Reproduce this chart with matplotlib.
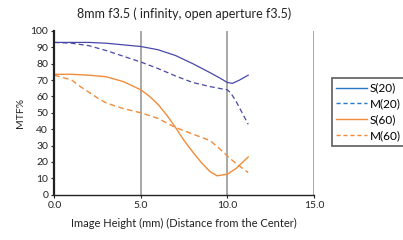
import matplotlib
matplotlib.use("Agg")
import matplotlib.pyplot as plt
from matplotlib.lines import Line2D

# Data
x_s20 = [0, 1, 2, 3, 4, 5, 6, 7, 8, 9, 9.6, 10, 10.3, 10.7, 11.2]
s20 = [93, 93, 93, 92.5, 91.5, 90.5, 88.5, 85, 80, 74.5, 71, 68.5, 68, 70, 73]
x_m20 = [0, 1, 2, 3, 4, 5, 6, 7, 8, 9, 9.5, 10, 10.2, 10.5, 10.9, 11.2]
m20 = [93, 92.5, 91, 88, 84.5, 81, 77, 72.5, 68.5, 66, 65, 64, 62, 57, 49, 43]
x_s60 = [0, 1, 2, 3, 4, 5, 5.5, 6, 6.5, 7, 7.5, 8, 8.5, 9, 9.4, 10, 10.5, 11.2]
s60 = [73.5, 73.5, 73, 72, 69, 64, 60, 55, 48.5, 41, 33, 26, 19.5, 14, 11.5, 12.5, 16, 23]
x_m60 = [0, 1, 1.5, 2, 2.5, 3, 4, 5, 6, 7, 8, 9, 9.5, 10, 10.5, 11.2]
m60 = [73, 70, 66, 62.5, 59, 56, 52.5, 50, 46.5, 41, 37, 33, 28.5, 23.5, 19, 13.5]

xticks = [0, 5, 10, 15]
xtick_labels = ["0.0", "5.0", "10.0", "15.0"]
yticks = list(range(0, 101, 10))
legend_labels = ["S(20)", "M(20)", "S(60)", "M(60)"]

plt.rcParams['font.family'] = ['Lato', 'DejaVu Sans']

fig = plt.figure(figsize=(4.03, 2.40), dpi=100)
ax = fig.add_axes([0.135, 0.189, 0.644, 0.682])

blue = '#4848a8'
orange = '#f28c3a'
ax.plot(x_s20, s20, color=blue, lw=0.9)
ax.plot(x_m20, m20, color=blue, lw=0.9, ls=(0, (4, 2.5)))
ax.plot(x_s60, s60, color=orange, lw=1.0)
ax.plot(x_m60, m60, color=orange, lw=1.0, ls=(0, (4, 2.5)))

ax.set_xlim(0, 15)
ax.set_ylim(0, 100)
ax.set_xticks(xticks)
ax.set_xticklabels(xtick_labels)
ax.set_yticks(yticks)
ax.tick_params(labelsize=7.5, length=2.5, width=0.8, colors='#222222', pad=2)
for xv in [5, 10, 15]:
    ax.axvline(xv, color='#9a9a9a', lw=1.2, zorder=0)
ax.spines['top'].set_visible(False)
ax.spines['right'].set_visible(False)
ax.spines['left'].set_linewidth(1.6)
ax.spines['left'].set_color('#222222')
ax.spines['bottom'].set_linewidth(1.0)
ax.spines['bottom'].set_color('#222222')

ax.set_title("8mm f3.5 ( infinity, open aperture f3.5)", fontsize=9, pad=9, color='#222222')
ax.set_ylabel("MTF%", fontsize=7.5, labelpad=4, color='#222222')
ax.set_xlabel("Image Height (mm) (Distance from the Center)", fontsize=8, labelpad=6, color='#222222')

handles = [
    Line2D([], [], color='#2878c8', lw=1.0),
    Line2D([], [], color='#2878c8', lw=1.0, ls=(0, (3, 2))),
    Line2D([], [], color=orange, lw=1.0),
    Line2D([], [], color=orange, lw=1.0, ls=(0, (3, 2))),
]
leg = fig.legend(handles, legend_labels, loc='upper left', bbox_to_anchor=(0.823, 0.675),
                 fontsize=8.5, frameon=True, fancybox=False, handlelength=2.6,
                 handletextpad=0.2, borderpad=0.4, labelspacing=0.4, borderaxespad=0)
leg.get_frame().set_edgecolor('#333333')
leg.get_frame().set_linewidth(1.2)

fig.savefig("out.png", dpi=100)
